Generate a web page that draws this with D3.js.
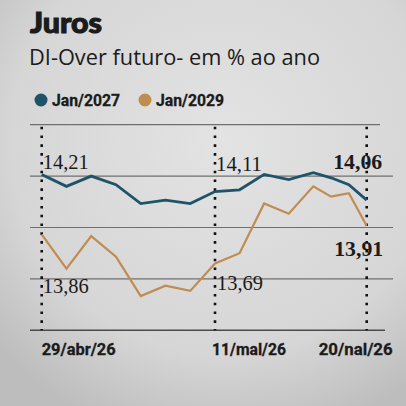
<!DOCTYPE html>
<html>
<head>
<meta charset="utf-8">
<script src="https://cdn.jsdelivr.net/npm/d3@7"></script>
<style>
  html, body { margin: 0; padding: 0; background: #d4d4d4; }
  svg { display: block; }
</style>
</head>
<body>
<div class="display"></div>
<script>
// DI-Over futuro chart

const WIDTH = 406;
const HEIGHT = 406;

// Trading days between 29/abr and 20/mai
const days = ['29/abr', '30/abr', '04/mai', '05/mai', '06/mai', '07/mai', '08/mai', '11/mai',
  '12/mai', '13/mai', '14/mai', '15/mai', '18/mai', '19/mai', '20/mai'];
const jan2027 = [14.21, 14.14, 14.20, 14.15, 14.04, 14.06, 14.04, 14.11, 14.12, 14.21, 14.18, 14.22, 14.19, 14.15, 14.06];
const jan2029 = [13.86, 13.66, 13.85, 13.73, 13.50, 13.56, 13.53, 13.69, 13.75, 14.04, 13.98, 14.14, 14.08, 14.10, 13.91];
const seriesNames = ['Jan/2027', 'Jan/2029'];
const gridValues = [14.5, 14.2, 13.9, 13.6];
const markedDays = [0, 7, 14];
const dayLabels = ['29/abr/26', '11/mal/26', '20/nal/26'];

const BLUE = '#1e5368';
const ORANGE = '#bf8c52';
const INK = '#1b1b1b';

const svg = d3.select('.display')
  .append('svg')
  .attr('width', WIDTH)
  .attr('height', HEIGHT);

// Photo-like background
const defs = svg.append('defs');
const grad = defs.append('radialGradient').attr('id', 'bg').attr('cx', '55%').attr('cy', '35%').attr('r', '75%');
grad.append('stop').attr('offset', '0%').attr('stop-color', '#e3e3e3');
grad.append('stop').attr('offset', '70%').attr('stop-color', '#d6d6d6');
grad.append('stop').attr('offset', '100%').attr('stop-color', '#bdbdbd');
svg.append('rect').attr('width', WIDTH).attr('height', HEIGHT).attr('fill', 'url(#bg)');

// Scales (the photo's spacing is a bit tighter in the last week)
const x = d3.scaleLinear().domain([0, 7, 11, 14]).range([41.7, 215, 313.3, 366.7]);
const y = d3.scaleLinear().domain([13.3, 14.5]).range([330.3, 124.7]);

// Titles
svg.append('text')
  .attr('x', 30).attr('y', 33)
  .attr('font-family', 'Lato').attr('font-weight', 900)
  .attr('font-size', 29).attr('fill', INK)
  .attr('stroke', INK).attr('stroke-width', 1.1)
  .attr('textLength', 72).attr('lengthAdjust', 'spacingAndGlyphs')
  .text('Juros');

svg.append('text')
  .attr('x', 29).attr('y', 65)
  .attr('font-family', 'Open Sans').attr('font-weight', 400)
  .attr('font-size', 22).attr('fill', INK)
  .attr('textLength', 291).attr('lengthAdjust', 'spacingAndGlyphs')
  .text('DI-Over futuro- em % ao ano');

// Legend
const legend = svg.append('g');
const legendX = [41, 145];
seriesNames.forEach((name, i) => {
  legend.append('circle')
    .attr('cx', legendX[i]).attr('cy', 100).attr('r', 6.5)
    .attr('fill', i === 0 ? BLUE : ORANGE);
  legend.append('text')
    .attr('x', legendX[i] + 11).attr('y', 106)
    .attr('font-family', 'Roboto').attr('font-weight', 700)
    .attr('font-size', 16).attr('fill', INK)
    .attr('stroke', INK).attr('stroke-width', 0.3)
    .attr('textLength', 68).attr('lengthAdjust', 'spacingAndGlyphs')
    .text(name);
});

// Gridlines
svg.selectAll('.grid')
  .data(gridValues)
  .enter()
  .append('line')
  .attr('class', 'grid')
  .attr('x1', 30).attr('x2', (d, i) => i === 0 ? 380 : 393)
  .attr('y1', d => y(d)).attr('y2', d => y(d))
  .attr('stroke', '#6f6f6f').attr('stroke-width', 1.2);

// Baseline
svg.append('line')
  .attr('x1', 30).attr('x2', 385)
  .attr('y1', y(13.3)).attr('y2', y(13.3))
  .attr('stroke', '#4a4a4a').attr('stroke-width', 1.6);

// Dotted date markers
svg.selectAll('.marker')
  .data(markedDays)
  .enter()
  .append('line')
  .attr('class', 'marker')
  .attr('x1', d => x(d)).attr('x2', d => x(d))
  .attr('y1', y(14.5) + 2).attr('y2', y(13.3))
  .attr('stroke', '#111').attr('stroke-width', 2.6)
  .attr('stroke-dasharray', '2.6,6.2');

// Lines
const line = d3.line()
  .x((d, i) => x(i))
  .y(d => y(d));

[jan2029, jan2027].forEach((values, k) => {
  svg.append('path')
    .datum(values)
    .attr('d', line)
    .attr('fill', 'none')
    .attr('stroke', k === 0 ? ORANGE : BLUE)
    .attr('stroke-width', k === 0 ? 2.2 : 2.8)
    .attr('stroke-linejoin', 'miter');
});

// Value labels
const fmt = v => d3.format('.2f')(v).replace('.', ',');
const labels = [
  { i: 0, v: jan2027[0], dy: -5, anchor: 'start', dx: 1, bold: false },
  { i: 7, v: jan2027[7], dy: -21, anchor: 'start', dx: 1, bold: false },
  { i: 14, v: jan2027[14], dy: -31, anchor: 'middle', dx: -9, bold: true },
  { i: 0, v: jan2029[0], dy: 59, anchor: 'start', dx: 1, bold: false },
  { i: 7, v: jan2029[7], dy: 27, anchor: 'start', dx: 2, bold: false },
  { i: 14, v: jan2029[14], dy: 30, anchor: 'middle', dx: -8, bold: true }
];
svg.selectAll('.value')
  .data(labels)
  .enter()
  .append('text')
  .attr('class', 'value')
  .attr('x', d => x(d.i) + d.dx)
  .attr('y', d => y(d.v) + d.dy)
  .attr('text-anchor', d => d.anchor)
  .attr('font-family', 'Liberation Serif')
  .attr('font-weight', d => d.bold ? 700 : 400)
  .attr('font-size', d => d.bold ? 21 : 20.5)
  .attr('fill', INK)
  .attr('textLength', d => d.bold ? 49 : 46)
  .attr('lengthAdjust', 'spacingAndGlyphs')
  .text(d => fmt(d.v));

// Date labels
svg.selectAll('.day')
  .data(markedDays)
  .enter()
  .append('text')
  .attr('class', 'day')
  .attr('x', (d, i) => x(d) + [0, -3, -48][i])
  .attr('y', 355)
  .attr('font-family', 'Roboto').attr('font-weight', 700)
  .attr('font-size', 16.5).attr('fill', INK)
  .attr('stroke', INK).attr('stroke-width', 0.3)
  .attr('textLength', 74).attr('lengthAdjust', 'spacingAndGlyphs')
  .text((d, i) => dayLabels[i]);
</script>
</body>
</html>
